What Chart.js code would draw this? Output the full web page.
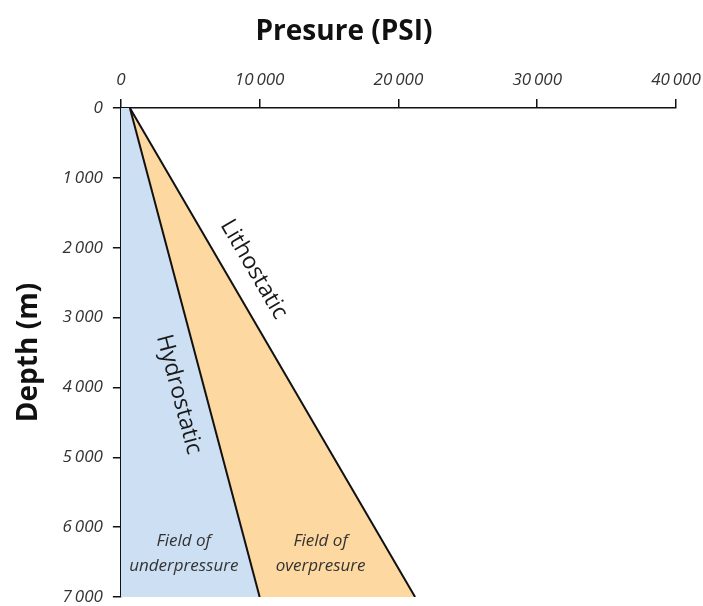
<!DOCTYPE html>
<html>
<head>
<meta charset="utf-8">
<script src="https://cdn.jsdelivr.net/npm/chart.js@4.4.1/dist/chart.umd.min.js"></script>
<style>
    html, body { margin: 0; padding: 0; background: #fff; }
    #wrap { width: 703px; height: 606px; }
</style>
</head>
<body>
<div id="wrap"><canvas id="pressureChart"></canvas></div>
<script>
// Dati
const depths = [0, 7000];
const hydrostatic = [650, 10000];
const lithostatic = [650, 21200];
const pressureTicks = [0, 10000, 20000, 30000, 40000];
const depthTicks = [0, 1000, 2000, 3000, 4000, 5000, 6000, 7000];

const lineLabels = ['Hydrostatic', 'Lithostatic'];
const lineLabelPos = [[4170, 4100], [9570, 2310]];
const fieldLabels = [['Field of', 'underpressure'], ['Field of', 'overpresure']];
const fieldLabelPos = [[4530, 6360], [14390, 6360]];

const FONT = "'Open Sans', 'Noto Sans', sans-serif";

function formatThousands(v) {
    return String(v).replace(/\B(?=(\d{3})+(?!\d))/g, '\u2009');
}

// Etichette disegnate sopra il grafico
const labelsPlugin = {
    id: 'regionLabels',
    afterDatasetsDraw(chart) {
        const ctx = chart.ctx;
        const xs = chart.scales.x;
        const ys = chart.scales.y;
        const series = [hydrostatic, lithostatic];

        ctx.save();
        ctx.fillStyle = '#1a1a1a';
        ctx.textAlign = 'center';
        ctx.textBaseline = 'middle';
        ctx.font = '23px ' + FONT;
        lineLabels.forEach((text, i) => {
            const s = series[i];
            const dx = xs.getPixelForValue(s[1]) - xs.getPixelForValue(s[0]);
            const dy = ys.getPixelForValue(depths[1]) - ys.getPixelForValue(depths[0]);
            const angle = Math.atan2(dy, dx);
            ctx.save();
            ctx.translate(xs.getPixelForValue(lineLabelPos[i][0]), ys.getPixelForValue(lineLabelPos[i][1]));
            ctx.rotate(angle);
            ctx.fillText(text, 0, 0);
            ctx.restore();
        });

        ctx.fillStyle = '#333';
        ctx.font = 'italic 17px ' + FONT;
        fieldLabels.forEach((lines, i) => {
            const px = xs.getPixelForValue(fieldLabelPos[i][0]);
            const py = ys.getPixelForValue(fieldLabelPos[i][1]);
            ctx.fillText(lines[0], px, py - 11);
            ctx.fillText(lines[1], px, py + 14);
        });
        ctx.restore();
    }
};

const ctx = document.getElementById('pressureChart').getContext('2d');
new Chart(ctx, {
    type: 'line',
    data: {
        datasets: [
            {
                label: 'Hydrostatic',
                data: depths.map((d, i) => ({ x: hydrostatic[i], y: d })),
                borderColor: '#111',
                borderWidth: 2,
                backgroundColor: '#cddff3',
                fill: 'start',
                pointRadius: 0,
                tension: 0
            },
            {
                label: 'Lithostatic',
                data: depths.map((d, i) => ({ x: lithostatic[i], y: d })),
                borderColor: '#111',
                borderWidth: 2,
                backgroundColor: '#fdd8a0',
                fill: '-1',
                pointRadius: 0,
                tension: 0
            }
        ]
    },
    options: {
        indexAxis: 'y',
        responsive: true,
        maintainAspectRatio: false,
        animation: false,
        layout: { padding: { left: 0, right: 15, top: 0, bottom: 0 } },
        plugins: {
            legend: { display: false },
            tooltip: { enabled: false },
            title: {
                display: true,
                text: 'Presure (PSI)',
                color: '#111',
                font: { family: FONT, size: 28, weight: 'bold' },
                padding: { top: 15, bottom: 12 }
            }
        },
        scales: {
            x: {
                type: 'linear',
                position: 'top',
                min: 0,
                max: 40000,
                afterBuildTicks: scale => { scale.ticks = pressureTicks.map(v => ({ value: v })); },
                afterFit: scale => { scale.paddingRight = 27; scale.paddingLeft = 0; },
                grid: { drawOnChartArea: false, drawTicks: true, tickLength: 9, color: '#111', lineWidth: 1.5 },
                border: { color: '#111', width: 1.5 },
                ticks: {
                    color: '#333',
                    font: { family: FONT, size: 17, style: 'italic' },
                    padding: 9,
                    maxRotation: 0,
                    callback: v => formatThousands(v)
                }
            },
            y: {
                type: 'linear',
                reverse: true,
                min: 0,
                max: 7000,
                afterBuildTicks: scale => { scale.ticks = depthTicks.map(v => ({ value: v })); },
                afterFit: scale => { scale.paddingBottom = 9; scale.paddingTop = 0; },
                grid: { drawOnChartArea: false, drawTicks: true, tickLength: 8, color: '#111', lineWidth: 1.5 },
                border: { color: '#111', width: 1.5 },
                ticks: {
                    color: '#333',
                    font: { family: FONT, size: 17, style: 'italic' },
                    padding: 10,
                    callback: v => formatThousands(v)
                },
                title: {
                    display: true,
                    text: 'Depth (m)',
                    color: '#111',
                    font: { family: FONT, size: 28, weight: 'bold' },
                    padding: { top: 12, bottom: 7 }
                }
            }
        }
    },
    plugins: [labelsPlugin]
});
</script>
</body>
</html>
